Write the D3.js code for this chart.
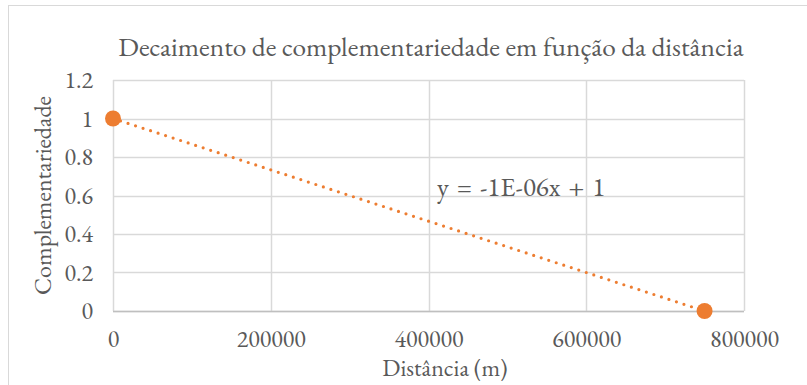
<!DOCTYPE html>
<html>
<head>
<meta charset="utf-8">
<script src="https://cdn.jsdelivr.net/npm/d3@7"></script>
<style>
  html, body { margin: 0; padding: 0; background: #fff; }
  svg { display: block; }
  text { font-family: "EB Garamond", Garamond, "Liberation Serif", "DejaVu Serif", serif; fill: #595959; }
</style>
</head>
<body>
<svg id="chart" width="807" height="385"></svg>
<script>
// Observed points: distance (m) and complementarity
const distances = [0, 750000];
const complementarity = [1, 0];

const xTicks = [0, 200000, 400000, 600000, 800000];
const yTicks = [0, 0.2, 0.4, 0.6, 0.8, 1, 1.2];

const titleText = "Decaimento de complementariedade em função da distância";
const xTitle = "Distância (m)";
const yTitle = "Complementariedade";

const W = 807, H = 385;
const plot = { left: 113, right: 744, top: 80, bottom: 311 };

const svg = d3.select("#chart");

// Outer chart frame
svg.append("rect")
  .attr("x", 8.5).attr("y", 5.5)
  .attr("width", W + 10).attr("height", H + 10)
  .attr("fill", "#fff").attr("stroke", "#d9d9d9").attr("stroke-width", 1);

const x = d3.scaleLinear().domain([0, 800000]).range([plot.left, plot.right]);
const y = d3.scaleLinear().domain([0, 1.2]).range([plot.bottom, plot.top]);

// Gridlines
const grid = svg.append("g");
grid.selectAll("line.h").data(yTicks).join("line")
  .attr("x1", plot.left).attr("x2", plot.right)
  .attr("y1", d => Math.round(y(d)) + 0.5).attr("y2", d => Math.round(y(d)) + 0.5)
  .attr("stroke", "#d9d9d9").attr("stroke-width", 1.5);
grid.selectAll("line.v").data(xTicks).join("line")
  .attr("y1", plot.top).attr("y2", plot.bottom)
  .attr("x1", d => Math.round(x(d)) + 0.5).attr("x2", d => Math.round(x(d)) + 0.5)
  .attr("stroke", "#d9d9d9").attr("stroke-width", 1.5);

// Bottom axis line
svg.append("line")
  .attr("x1", plot.left).attr("x2", plot.right)
  .attr("y1", Math.round(y(0)) + 0.5).attr("y2", Math.round(y(0)) + 0.5)
  .attr("stroke", "#bfbfbf").attr("stroke-width", 1.5);

// Axes (labels only)
const fmtY = d => String(+d.toFixed(1));
const xAxis = d3.axisBottom(x).tickValues(xTicks).tickSize(0).tickPadding(19).tickFormat(d => String(d));
const yAxis = d3.axisLeft(y).tickValues(yTicks).tickSize(0).tickPadding(20).tickFormat(fmtY);

const gx = svg.append("g").attr("transform", `translate(0,${plot.bottom})`).call(xAxis);
const gy = svg.append("g").attr("transform", `translate(${plot.left},0)`).call(yAxis);
[gx, gy].forEach(g => {
  g.select(".domain").remove();
  g.selectAll("text").attr("font-size", 24).attr("fill", "#595959")
    .attr("font-family", null);
});

// Linear trendline from least squares fit
const mx = d3.mean(distances), my = d3.mean(complementarity);
const slope = d3.sum(distances, (d, i) => (d - mx) * (complementarity[i] - my)) /
              d3.sum(distances, d => (d - mx) * (d - mx));
const intercept = my - slope * mx;
const xr = d3.extent(distances);
svg.append("line")
  .attr("x1", x(xr[0])).attr("y1", y(slope * xr[0] + intercept))
  .attr("x2", x(xr[1])).attr("y2", y(slope * xr[1] + intercept))
  .attr("stroke", "#ED7D31").attr("stroke-width", 3.2)
  .attr("stroke-linecap", "round").attr("stroke-dasharray", "0 7.9");

// Markers
svg.selectAll("circle.pt").data(distances).join("circle")
  .attr("cx", d => x(d)).attr("cy", (d, i) => y(complementarity[i]))
  .attr("r", 8).attr("fill", "#ED7D31");

// Trendline equation in spreadsheet style, e.g. -1E-06
const [mant, expo] = slope.toExponential(0).split("e");
const expStr = (expo[0] === "-" ? "-" : "+") + String(Math.abs(+expo)).padStart(2, "0");
const eq = `y = ${mant}E${expStr}x + ${Math.round(intercept)}`;
svg.append("text")
  .attr("x", 437).attr("y", 196)
  .attr("font-size", 27)
  .attr("word-spacing", 2.5)
  .text(eq);

// Titles
svg.append("text")
  .attr("x", 431).attr("y", 56)
  .attr("text-anchor", "middle").attr("font-size", 27.4)
  .text(titleText);

svg.append("text")
  .attr("x", 445).attr("y", 376)
  .attr("text-anchor", "middle").attr("font-size", 24)
  .text(xTitle);

svg.append("text")
  .attr("transform", `translate(51,${(plot.top + plot.bottom) / 2}) rotate(-90)`)
  .attr("text-anchor", "middle").attr("font-size", 24)
  .text(yTitle);
</script>
</body>
</html>
